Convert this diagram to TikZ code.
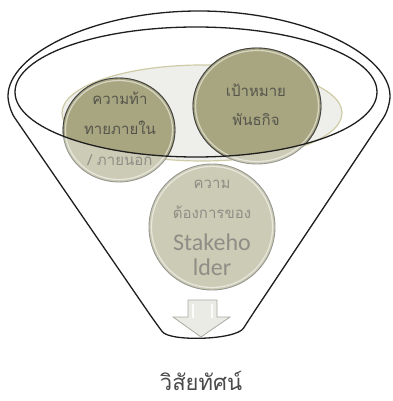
\documentclass[tikz,border=0pt]{standalone}
\usepackage{fontspec}
\newfontfamily\thai[Script=Thai]{Loma}
\newfontfamily\calib{Carlito}
\definecolor{darkfill}{HTML}{A8A680}
\definecolor{lightfill}{HTML}{CCCBB5}
\definecolor{ringcol}{HTML}{6A6A62}
\definecolor{darktext}{HTML}{55554C}
\definecolor{lighttext}{HTML}{8E8E86}
\definecolor{titletext}{HTML}{4A4A4A}
\definecolor{bgfill}{HTML}{EEEFEB}
\definecolor{bgline}{HTML}{CFCBA6}
\definecolor{arrowfill}{HTML}{EBEBE5}
\definecolor{arrowline}{HTML}{A9A9A2}
\definecolor{outline}{HTML}{1E1E1E}
\tikzset{
  circbox/.style={line width=0.9pt},
  gloss/.style={draw=white, line width=1.2pt, opacity=0.55},
  thaitxt/.style={anchor=base, inner sep=0pt, font=\thai\fontsize{15}{15}\selectfont},
  engtxt/.style={anchor=base, inner sep=0pt, font=\calib\fontsize{24}{24}\selectfont},
  funnelline/.style={draw=outline, line width=1.3pt},
}
\begin{document}
\begin{tikzpicture}[x=1pt,y=-1pt]
\useasboundingbox (0,0) rectangle (392,401);
% positions
\coordinate (cA) at (119,130);
\coordinate (cB) at (257,106);
\coordinate (cC) at (212,227);
\coordinate (cI) at (196,92);
\coordinate (cG) at (202,113);
% background ellipse
\fill[bgfill] (cG) ellipse [x radius=140pt, y radius=48pt];
\draw[bgline, line width=1.2pt] (cG) ellipse [x radius=140pt, y radius=48pt];
% circles (light, outside the funnel mouth)
\foreach \c/\rx/\ry in {cA/56/52, cB/64/58, cC/63/63}{
  \fill[lightfill] (\c) ellipse [x radius=\rx pt, y radius=\ry pt];
  \draw[gloss] (\c) ellipse [x radius=\rx pt-2.5pt, y radius=\ry pt-2.5pt];
  \draw[circbox, draw=ringcol!70] (\c) ellipse [x radius=\rx pt, y radius=\ry pt];
}
% light texts
\node[thaitxt, text=lighttext] (a1) at (120,105) {ความท้า};
\node[thaitxt, text=lighttext] (a2) at (120,135) {ทายภายใน};
\node[thaitxt, text=lighttext] (a3) at (120,165) {/ ภายนอก};
\node[thaitxt, text=lighttext] (b1) at (256,97) {เป้าหมาย};
\node[thaitxt, text=lighttext] (b2) at (256,125) {พันธกิจ};
\node[thaitxt, text=lighttext] (c1) at (212,188) {ความ};
\node[thaitxt, text=lighttext] (c2) at (212,218) {ต้องการของ};
\node[engtxt, text=lighttext] (c3) at (212,250) {Stakeho};
\node[engtxt, text=lighttext] (c4) at (212,275) {lder};
% darker parts inside the funnel mouth
\begin{scope}
\clip (cI) ellipse [x radius=181pt, y radius=65pt];
\foreach \c/\rx/\ry in {cA/56/52, cB/64/58}{
  \fill[darkfill] (\c) ellipse [x radius=\rx pt, y radius=\ry pt];
  \draw[gloss] (\c) ellipse [x radius=\rx pt-2.5pt, y radius=\ry pt-2.5pt];
  \draw[circbox, draw=outline!85] (\c) ellipse [x radius=\rx pt, y radius=\ry pt];
}
\node[thaitxt, text=darktext] at (120,105) {ความท้า};
\node[thaitxt, text=darktext] at (120,135) {ทายภายใน};
\node[thaitxt, text=darktext] at (120,165) {/ ภายนอก};
\node[thaitxt, text=darktext] at (256,97) {เป้าหมาย};
\node[thaitxt, text=darktext] at (256,125) {พันธกิจ};
\end{scope}
% funnel mouth
\draw[funnelline] (cI) ellipse [x radius=181pt, y radius=65pt];
% funnel outline
\draw[funnelline, rounded corners=12pt]
  (8,108) arc [start angle=180, end angle=0, x radius=191pt, y radius=97pt]
  -- (250,318)
  .. controls (236,340) and (170,342) .. (155,322) -- cycle;
% arrow
\draw[fill=arrowfill, draw=arrowline, line width=0.8pt, line join=miter]
  (188,300) -- (217,300) -- (217,317) -- (230,317) -- (201,337) -- (173,317) -- (188,317) -- cycle;
\draw[white, line width=1.2pt, opacity=0.8] (193,304) -- (193,318) (212,304) -- (212,318);
% title
\node[anchor=base, inner sep=0pt, text=titletext, font=\thai\fontsize{22}{22}\selectfont] (title) at (201,390) {วิสัยทัศน์};
\end{tikzpicture}
\end{document}
